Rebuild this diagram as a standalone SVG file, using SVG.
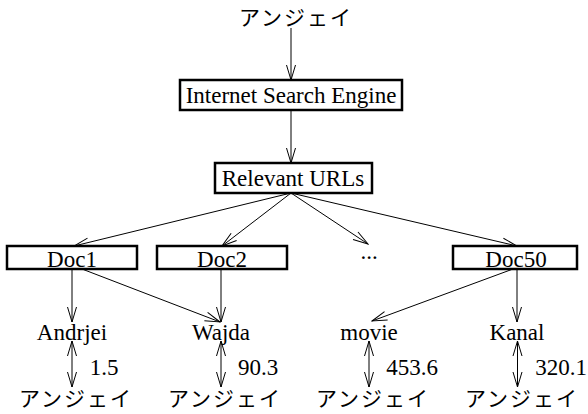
<svg xmlns="http://www.w3.org/2000/svg" width="588" height="414" viewBox="0 0 588 414">
<style>
text{font-family:"Liberation Serif","Times New Roman",serif;font-size:23px;fill:#000;text-anchor:middle}
text.jp{font-family:"Noto Sans CJK JP","Noto Sans CJK SC",sans-serif;font-size:21px;letter-spacing:2px}
rect.box{fill:#fff;stroke:#000;stroke-width:2.5}
.conn line{stroke:#000;stroke-width:1;fill:none;marker-end:url(#ah)}
.conn line.dbl{marker-start:url(#ah)}
</style>
<defs>
<marker id="ah" markerUnits="userSpaceOnUse" viewBox="-16 -6 17 12" refX="0" refY="0" markerWidth="17" markerHeight="12" orient="auto-start-reverse">
<path d="M-15,-4.5 L0,0 L-15,4.5" fill="none" stroke="#000" stroke-width="1"/>
</marker>
</defs>
<g class="conn" id="connectors">
<line x1="291" y1="28" x2="291" y2="80"/>
<line x1="291" y1="110" x2="291" y2="163"/>
<line x1="291" y1="193" x2="74" y2="246"/>
<line x1="291" y1="193" x2="222" y2="246"/>
<line x1="291" y1="193" x2="368" y2="244"/>
<line x1="291" y1="193" x2="517" y2="246"/>
<line x1="72" y1="269" x2="72" y2="322"/>
<line x1="82" y1="269" x2="220" y2="322"/>
<line x1="221" y1="269" x2="221" y2="322"/>
<line x1="513" y1="269" x2="372" y2="321"/>
<line x1="517" y1="269" x2="517" y2="322"/>
<line class="dbl" x1="72" y1="341" x2="72" y2="387"/>
<line class="dbl" x1="221" y1="341" x2="221" y2="387"/>
<line class="dbl" x1="369" y1="341" x2="369" y2="387"/>
<line class="dbl" x1="517.5" y1="341" x2="517.5" y2="387"/>
</g>
<g id="query"><text class="jp" x="296" y="25">アンジェイ</text></g>
<g id="engine"><rect class="box" x="180" y="80" width="222" height="30"/><text x="291" y="103">Internet Search Engine</text></g>
<g id="urls"><rect class="box" x="215" y="163" width="157" height="30"/><text x="293" y="186">Relevant URLs</text></g>
<g id="doc1"><rect class="box" x="7" y="246" width="130" height="23"/><text x="72" y="267">Doc1</text></g>
<g id="doc2"><rect class="box" x="157" y="246" width="130" height="23"/><text x="222" y="267">Doc2</text></g>
<g id="ellipsis"><text x="369" y="259">...</text></g>
<g id="doc50"><rect class="box" x="453" y="246" width="124" height="23"/><text x="516" y="267">Doc50</text></g>
<g id="andrjei"><text x="72" y="340">Andrjei</text></g>
<g id="wajda"><text x="221" y="340">Wajda</text></g>
<g id="movie"><text x="369" y="340">movie</text></g>
<g id="kanal"><text x="517" y="340">Kanal</text></g>
<g id="s1"><text x="104" y="375">1.5</text></g>
<g id="s2"><text x="258" y="375">90.3</text></g>
<g id="s3"><text x="412" y="375">453.6</text></g>
<g id="s4"><text x="561" y="375">320.1</text></g>
<g id="jp1"><text class="jp" x="76" y="406">アンジェイ</text></g>
<g id="jp2"><text class="jp" x="225" y="406">アンジェイ</text></g>
<g id="jp3"><text class="jp" x="373" y="406">アンジェイ</text></g>
<g id="jp4"><text class="jp" x="522" y="406">アンジェイ</text></g>
</svg>
